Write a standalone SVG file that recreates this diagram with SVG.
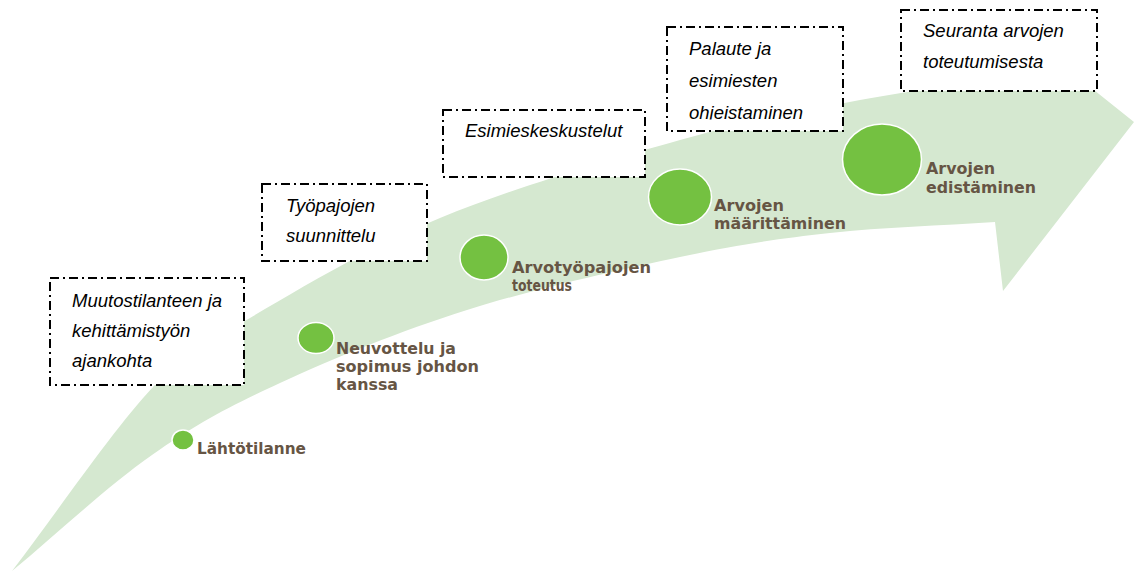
<svg xmlns="http://www.w3.org/2000/svg" width="1135" height="571" viewBox="0 0 1135 571">
<style>
.box{fill:#fff;stroke:#000;stroke-width:2;stroke-dasharray:9 4 2 4}
.it{font-family:"Liberation Sans",Arial,sans-serif;font-style:italic;font-size:18.5px;fill:#000}
.dot{fill:#74c141;stroke:#fff;stroke-width:1.5}
.lb{font-family:"DejaVu Sans",sans-serif;font-weight:bold;font-size:15px;fill:#665544}
</style>
<defs>
<clipPath id="clip4"><rect x="667" y="27" width="176" height="92.5"/></clipPath>
</defs>
<rect width="1135" height="571" fill="#fff"/>
<g id="arrow">
<path fill="#d5e8d0" d="M12,571 C59,509.7 113.3,429.2 153,387 C192.7,344.8 202.2,346.2 250,318 C296.7,290.2 368.3,247.7 440,218 C511.7,188.3 610,159.7 680,140 C750,120.3 806.7,110 860,100 C913.3,90 976.7,83.3 1000,80 L1000,15 L1134,122 L1003,291 L995,222 C941.3,225.7 882.8,227.2 830,233 C777.2,238.8 740.5,244.2 680,257 C619.5,269.8 533.7,289 467,310 C400.3,331 332.5,358.8 280,383 C227.5,407.2 196.7,423.7 152,455 C107.3,486.3 58.7,532.3 12,571 Z"/>
</g>
<g id="connectors"></g>
<g id="box1">
<rect class="box" x="50" y="278" width="194" height="107"/>
<text class="it" x="72" y="307">Muutostilanteen ja</text>
<text class="it" x="72" y="337">kehittämistyön</text>
<text class="it" x="72" y="367">ajankohta</text>
</g>
<g id="box2">
<rect class="box" x="262" y="184" width="165" height="77"/>
<text class="it" x="286" y="212">Työpajojen</text>
<text class="it" x="286" y="242">suunnittelu</text>
</g>
<g id="box3">
<rect class="box" x="443" y="110" width="202" height="67"/>
<text class="it" x="465" y="137">Esimieskeskustelut</text>
</g>
<g id="box4">
<rect class="box" x="667" y="27" width="176" height="104"/>
<g clip-path="url(#clip4)">
<text class="it" x="689" y="55">Palaute ja</text>
<text class="it" x="689" y="87">esimiesten</text>
<text class="it" x="689" y="119">ohjeistaminen</text>
</g>
</g>
<g id="box5">
<rect class="box" x="901" y="10" width="196" height="81"/>
<text class="it" x="923" y="37">Seuranta arvojen</text>
<text class="it" x="923" y="68">toteutumisesta</text>
</g>
<g id="n1">
<ellipse class="dot" cx="183" cy="440" rx="11" ry="10"/>
<text class="lb" x="197" y="454" textLength="109" lengthAdjust="spacingAndGlyphs">Lähtötilanne</text>
</g>
<g id="n2">
<ellipse class="dot" cx="316" cy="338" rx="18" ry="15.5"/>
<text class="lb" x="336" y="354" textLength="120" lengthAdjust="spacingAndGlyphs">Neuvottelu ja</text>
<text class="lb" x="336" y="372" textLength="143" lengthAdjust="spacingAndGlyphs">sopimus johdon</text>
<text class="lb" x="336" y="390" textLength="62" lengthAdjust="spacingAndGlyphs">kanssa</text>
</g>
<g id="n3">
<ellipse class="dot" cx="484" cy="257.5" rx="24" ry="22.5"/>
<text class="lb" x="512" y="273" textLength="139" lengthAdjust="spacingAndGlyphs">Arvotyöpajojen</text>
<text class="lb" x="512" y="291" textLength="60" lengthAdjust="spacingAndGlyphs">toteutus</text>
</g>
<g id="n4">
<ellipse class="dot" cx="680" cy="197" rx="31.5" ry="28"/>
<text class="lb" x="714" y="211" textLength="70" lengthAdjust="spacingAndGlyphs">Arvojen</text>
<text class="lb" x="714" y="229" textLength="132" lengthAdjust="spacingAndGlyphs">määrittäminen</text>
</g>
<g id="n5">
<ellipse class="dot" cx="882" cy="159.5" rx="39.5" ry="35.5"/>
<text class="lb" x="926" y="174" textLength="69" lengthAdjust="spacingAndGlyphs">Arvojen</text>
<text class="lb" x="926" y="193" textLength="110" lengthAdjust="spacingAndGlyphs">edistäminen</text>
</g>
</svg>
